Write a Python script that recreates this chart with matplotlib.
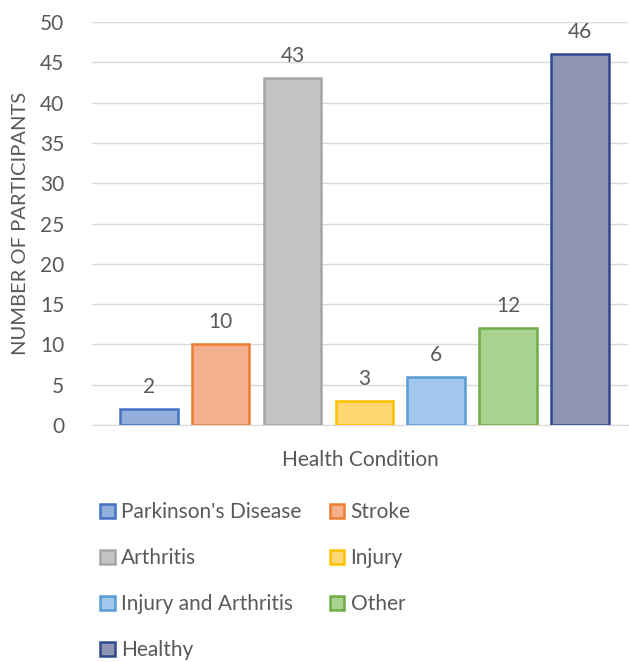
import matplotlib.pyplot as plt

# participants per health condition
conditions = ["Parkinson's Disease", "Stroke", "Arthritis", "Injury",
              "Injury and Arthritis", "Other", "Healthy"]
counts = [2, 10, 43, 3, 6, 12, 46]
fills = ["#94AEDC", "#F3B08C", "#C3C3C3", "#FFD874", "#A3C6EC", "#A8D28E", "#8F96B5"]
edges = ["#4472C4", "#ED7D31", "#A5A5A5", "#FFC000", "#5B9BD5", "#70AD47", "#2F4A8A"]

plt.rcParams['font.family'] = ['Lato', 'DejaVu Sans']
txt = "#595959"

fig = plt.figure(figsize=(6.29, 6.62), dpi=100)
ax = fig.add_axes([92/629, 1 - 425/662, 536/629, (425 - 22)/662])

bars = []
for i, (name, val) in enumerate(zip(conditions, counts)):
    b = ax.bar(i, val, width=0.8, color=fills[i], edgecolor=edges[i],
               linewidth=1.8, label=name, zorder=3)
    bars.append(b)
    ax.text(i, val + 1.5, str(val), ha='center', va='bottom',
            fontsize=15, color=txt)

ax.set_xlim(-0.79, 6.67)
ax.set_ylim(0, 50)
ax.set_yticks(range(0, 51, 5))
ax.set_xticks([])
ax.grid(axis='y', color="#D9D9D9", linewidth=1, zorder=0)
for s in ['top', 'right', 'left']:
    ax.spines[s].set_visible(False)
ax.spines['bottom'].set_color("#D9D9D9")
ax.tick_params(axis='y', length=0, labelsize=15, labelcolor=txt, pad=20)
ax.set_xlabel("Health Condition", fontsize=15, color=txt, labelpad=18)
ax.set_ylabel("NUMBER OF PARTICIPANTS", fontsize=14.5, color=txt, labelpad=8)

# legend filled row by row, two columns
order = [0, 2, 4, 6, 1, 3, 5]
handles = [bars[i] for i in order]
labels = [conditions[i] for i in order]
leg = fig.legend(handles, labels, ncol=2, loc='upper left',
                 bbox_to_anchor=(92/629, 1 - 494/662), frameon=False,
                 fontsize=15, labelcolor=txt, handlelength=0.7, handleheight=0.7,
                 handletextpad=0.3, columnspacing=1.35, labelspacing=1.25,
                 borderaxespad=0.0)

fig.savefig("out.png", dpi=100)
